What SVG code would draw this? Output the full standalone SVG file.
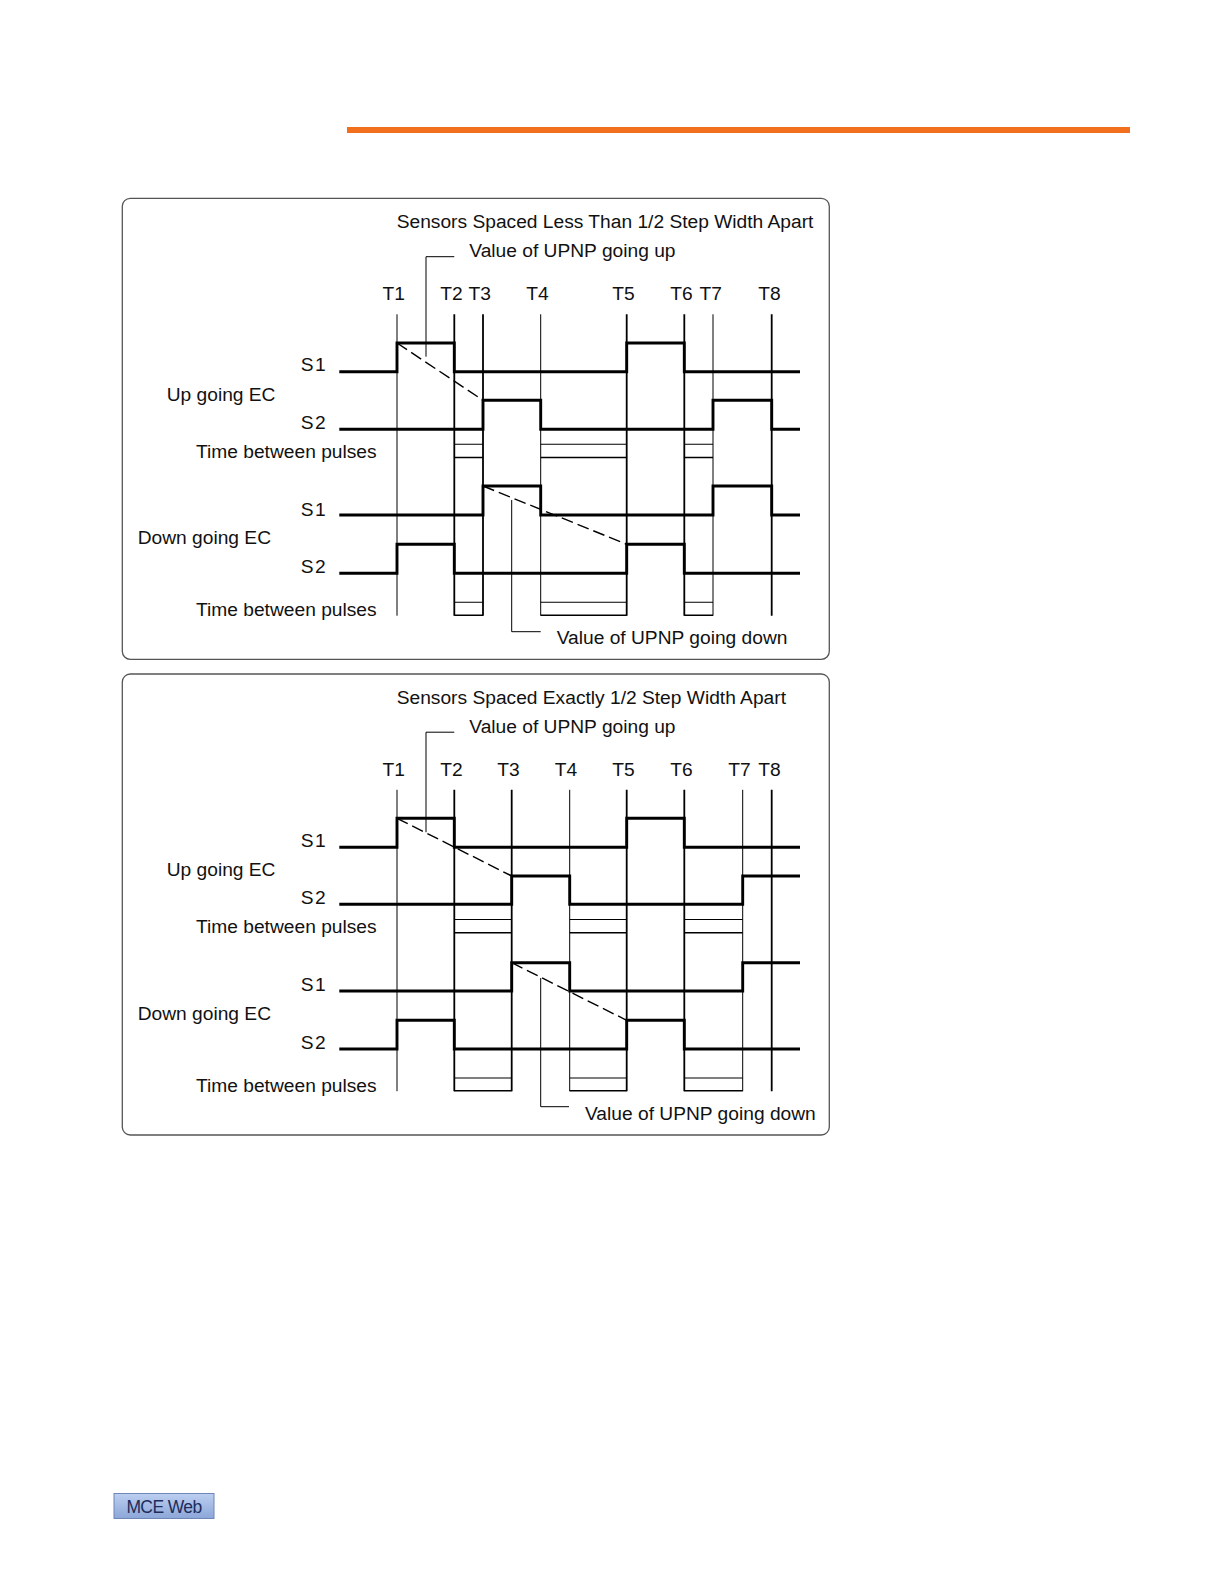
<svg xmlns="http://www.w3.org/2000/svg" width="1224" height="1584" viewBox="0 0 1224 1584">
<defs>
<style>
text{font-family:"Liberation Sans",Arial,Helvetica,sans-serif;font-size:19.2px;fill:#111}
.s{letter-spacing:1.5px}
.frame{fill:#fff;stroke:#555;stroke-width:1.3}
.sig{fill:none;stroke:#000;stroke-width:2.9;stroke-linejoin:miter;stroke-linecap:butt}
.vt{stroke:#000;stroke-width:1.8}
.vn{stroke:#000;stroke-width:1}
.bx{stroke:#000;stroke-width:1.1}
.bb{stroke:#000;stroke-width:1.6}
.dash{fill:none;stroke:#000;stroke-width:1.4;stroke-dasharray:12 5}
.lead{fill:none;stroke:#000;stroke-width:1}
</style>
<linearGradient id="btn" x1="0" y1="0" x2="0" y2="1">
<stop offset="0" stop-color="#bccff0"/>
<stop offset="1" stop-color="#8ca6d8"/>
</linearGradient>
</defs>
<rect width="1224" height="1584" fill="#fff"/>
<rect id="orange-bar" x="347" y="127" width="783" height="6" fill="#f26f1d"/>

<g id="panel1">
<rect class="frame" x="122.3" y="198.3" width="707" height="461" rx="8"/>
<text x="396.7" y="228.3">Sensors Spaced Less Than 1/2 Step Width Apart</text>
<text x="469.3" y="257.3">Value of UPNP going up</text>
<g id="p1-tlabels">
<text x="382.5" y="300">T1</text>
<text x="440.2" y="300">T2</text>
<text x="468.5" y="300">T3</text>
<text x="526.2" y="300">T4</text>
<text x="612.2" y="300">T5</text>
<text x="670.2" y="300">T6</text>
<text x="699.5" y="300">T7</text>
<text x="758.3" y="300">T8</text>
</g>
<g id="p1-labels">
<text class="s" x="300.7" y="371">S1</text>
<text x="166.7" y="400.7">Up going EC</text>
<text class="s" x="300.7" y="428.5">S2</text>
<text x="196" y="457.7">Time between pulses</text>
<text class="s" x="300.7" y="515.7">S1</text>
<text x="137.7" y="544.3">Down going EC</text>
<text class="s" x="300.7" y="573.3">S2</text>
<text x="196" y="616">Time between pulses</text>
<text x="556.7" y="644">Value of UPNP going down</text>
</g>
<g id="p1-verticals">
<line class="vn" x1="397" y1="314.3" x2="397" y2="615.7"/>
<line class="vt" x1="454.3" y1="314.3" x2="454.3" y2="615.7"/>
<line class="vt" x1="483" y1="314.3" x2="483" y2="615.7"/>
<line class="vn" x1="540.7" y1="314.3" x2="540.7" y2="615.7"/>
<line class="vt" x1="626.7" y1="314.3" x2="626.7" y2="615.7"/>
<line class="vt" x1="684.3" y1="314.3" x2="684.3" y2="615.7"/>
<line class="vn" x1="713" y1="314.3" x2="713" y2="615.7"/>
<line class="vt" x1="771.7" y1="314.3" x2="771.7" y2="615.7"/>
</g>
<g id="p1-boxes">
<path class="bx" d="M454.3,444.3H483M540.7,444.3H626.7M684.3,444.3H713"/>
<path class="bb" d="M454.3,457.5H483M540.7,457.5H626.7M684.3,457.5H713"/>
<path class="bx" d="M454.3,602.3H483M540.7,602.3H626.7M684.3,602.3H713"/>
<path class="bb" d="M454.3,615.2H483M540.7,615.2H626.7M684.3,615.2H713"/>
</g>
<g id="p1-signals">
<path class="sig" d="M339.3,371.7H397V343H454.3V371.7H626.7V343H684.3V371.7H800"/>
<path class="sig" d="M339.3,429.3H483V400.3H540.7V429.3H713V400.3H771.7V429.3H800"/>
<path class="sig" d="M339.3,515H483V486H540.7V515H713V486H771.7V515H800"/>
<path class="sig" d="M339.3,573.3H397V544.3H454.3V573.3H626.7V544.3H684.3V573.3H800"/>
</g>
<g id="p1-connectors">
<line class="dash" x1="397" y1="343" x2="483" y2="400.3"/>
<line class="dash" x1="483" y1="486" x2="626.7" y2="544.3"/>
<path class="lead" d="M454.3,256.7H426V356.7"/>
<path class="lead" d="M511.7,500V631.7H540.7"/>
</g>
</g>

<g id="panel2">
<rect class="frame" x="122.3" y="674" width="707" height="461" rx="8"/>
<text x="396.7" y="703.8">Sensors Spaced Exactly 1/2 Step Width Apart</text>
<text x="469.3" y="732.8">Value of UPNP going up</text>
<g id="p2-tlabels">
<text x="382.5" y="775.5">T1</text>
<text x="440.2" y="775.5">T2</text>
<text x="497.2" y="775.5">T3</text>
<text x="554.8" y="775.5">T4</text>
<text x="612.2" y="775.5">T5</text>
<text x="670.2" y="775.5">T6</text>
<text x="728.2" y="775.5">T7</text>
<text x="758.3" y="775.5">T8</text>
</g>
<g id="p2-labels">
<text class="s" x="300.7" y="846.5">S1</text>
<text x="166.7" y="876.2">Up going EC</text>
<text class="s" x="300.7" y="904">S2</text>
<text x="196" y="933.2">Time between pulses</text>
<text class="s" x="300.7" y="991.2">S1</text>
<text x="137.7" y="1019.8">Down going EC</text>
<text class="s" x="300.7" y="1048.8">S2</text>
<text x="196" y="1091.5">Time between pulses</text>
<text x="585" y="1120">Value of UPNP going down</text>
</g>
<g id="p2-verticals">
<line class="vn" x1="397" y1="789.8" x2="397" y2="1091.2"/>
<line class="vt" x1="454.3" y1="789.8" x2="454.3" y2="1091.2"/>
<line class="vt" x1="511.7" y1="789.8" x2="511.7" y2="1091.2"/>
<line class="vn" x1="569.7" y1="789.8" x2="569.7" y2="1091.2"/>
<line class="vt" x1="626.7" y1="789.8" x2="626.7" y2="1091.2"/>
<line class="vt" x1="684.3" y1="789.8" x2="684.3" y2="1091.2"/>
<line class="vn" x1="742.7" y1="789.8" x2="742.7" y2="1091.2"/>
<line class="vt" x1="771.7" y1="789.8" x2="771.7" y2="1091.2"/>
</g>
<g id="p2-boxes">
<path class="bx" d="M454.3,919.5H511.7M569.7,919.5H626.7M684.3,919.5H742.7"/>
<path class="bb" d="M454.3,932.7H511.7M569.7,932.7H626.7M684.3,932.7H742.7"/>
<path class="bx" d="M454.3,1078H511.7M569.7,1078H626.7M684.3,1078H742.7"/>
<path class="bb" d="M454.3,1090.7H511.7M569.7,1090.7H626.7M684.3,1090.7H742.7"/>
</g>
<g id="p2-signals">
<path class="sig" d="M339.3,847.3H397V818.3H454.3V847.3H626.7V818.3H684.3V847.3H800"/>
<path class="sig" d="M339.3,904.3H511.7V876H569.7V904.3H742.7V876H800"/>
<path class="sig" d="M339.3,991H511.7V962.7H569.7V991H742.7V962.7H800"/>
<path class="sig" d="M339.3,1049H397V1020.3H454.3V1049H626.7V1020.3H684.3V1049H800"/>
</g>
<g id="p2-connectors">
<line class="dash" x1="397" y1="818.3" x2="511.7" y2="876"/>
<line class="dash" x1="511.7" y1="962.7" x2="626.7" y2="1020.3"/>
<path class="lead" d="M454.3,732.2H426V832.2"/>
<path class="lead" d="M540.7,978V1106.7H569"/>
</g>
</g>

<g id="mce-web">
<rect x="114" y="1493.5" width="100" height="25" fill="url(#btn)" stroke="#6f86b8" stroke-width="1"/>
<text x="164" y="1512.5" text-anchor="middle" style="font-size:17.5px;fill:#1e2d5c;letter-spacing:-0.6px">MCE Web</text>
</g>
</svg>
